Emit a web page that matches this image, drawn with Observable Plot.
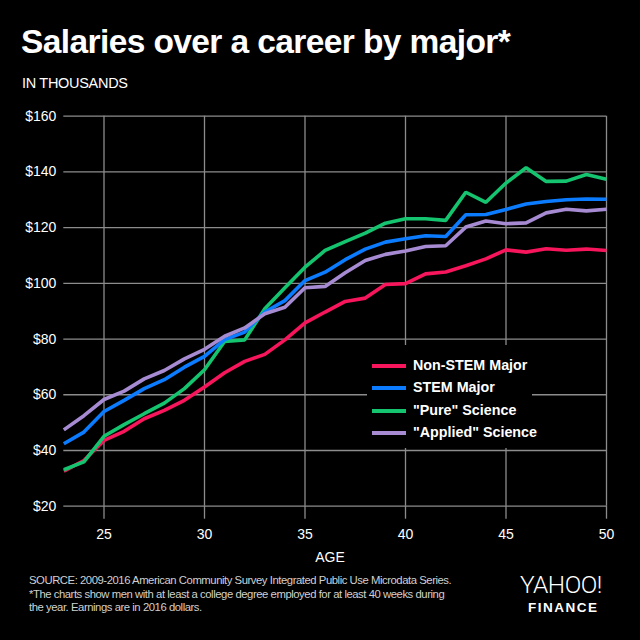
<!DOCTYPE html>
<html>
<head>
<meta charset="utf-8">
<script src="https://cdn.jsdelivr.net/npm/d3@7"></script>
<script src="https://cdn.jsdelivr.net/npm/@observablehq/plot@0.6"></script>
<style>
  html, body { margin: 0; padding: 0; background: #000; }
  #root { position: relative; width: 640px; height: 640px; background: #000; overflow: hidden;
          font-family: "Liberation Sans", Arial, Helvetica, sans-serif; color: #fff; }
  .abs { position: absolute; white-space: nowrap; }
  #title { left: 21px; top: 23px; font-size: 33.5px; font-weight: bold; letter-spacing: -0.6px; line-height: 1.15; }
  #sub { left: 22px; top: 75px; font-size: 14.5px; letter-spacing: -0.3px; }
  #chart { left: 0; top: 100px; }
  #legend { left: 367px; top: 345px; width: 165px; height: 103px; background: #000; }
  .row { position: absolute; left: 0; height: 16px; font-size: 14.3px; font-weight: bold; }
  .sw { position: absolute; left: 5px; top: 6px; width: 34px; height: 4px; }
  .lab { position: absolute; left: 46px; top: -1px; }
  #xlabel { left: 0; width: 660px; text-align: center; top: 549px; font-size: 14px; }
  #src { left: 29px; top: 574px; font-size: 11.3px; line-height: 13.7px; color: #d0d0d0; letter-spacing: -0.45px; }
  #logo1 { left: 520px; top: 574px; height: 22px; font-family: Roboto, "Liberation Sans", sans-serif; font-size: 24px; line-height: 22px; letter-spacing: -0.5px; transform: scaleX(1.02); transform-origin: left top; font-weight: 300; }
  #logo2 { left: 528px; top: 602px; height: 12px; font-size: 13.5px; line-height: 12px; font-weight: bold; letter-spacing: 1.5px; }
</style>
</head>
<body>
<div id="root">
  <div id="title" class="abs">Salaries over a career by major*</div>
  <div id="sub" class="abs">IN THOUSANDS</div>
  <div id="chart" class="abs"></div>
  <div id="legend" class="abs"></div>
  <div id="xlabel" class="abs">AGE</div>
  <div id="src" class="abs">SOURCE: 2009-2016 American Community Survey Integrated Public Use Microdata Series.<br>*The charts show men with at least a college degree employed for at least 40 weeks during<br>the year. Earnings are in 2016 dollars.</div>
  <div id="logo1" class="abs">YAHOO!</div>
  <div id="logo2" class="abs">FINANCE</div>
</div>
<script>
const ages = [23,24,25,26,27,28,29,30,31,32,33,34,35,36,37,38,39,40,41,42,43,44,45,46,47,48,49,50];
const nonStem = [32.6,36.4,43.6,46.9,51.4,54.4,58.0,62.8,67.9,72.0,74.5,79.7,85.8,89.7,93.5,94.7,99.6,99.9,103.4,104.1,106.3,108.8,112.0,111.2,112.4,111.9,112.3,111.8];
const stem = [42.4,46.6,54.0,58.0,62.2,65.4,69.9,73.8,79.8,82.5,89.7,93.8,101.0,104.0,108.5,112.3,114.8,116.0,117.1,116.8,124.6,124.7,126.5,128.5,129.4,130.0,130.3,130.2];
const pure = [33.1,35.9,45.1,49.3,53.2,57.0,62.2,69.0,79.1,79.7,90.9,98.4,105.8,111.8,115.0,118.0,121.6,123.2,123.2,122.6,132.7,129.1,136.0,141.5,136.6,136.7,139.1,137.4];
const applied = [47.4,52.5,58.3,61.3,65.7,68.7,72.9,76.3,81.0,84.0,89.1,91.4,98.4,98.9,103.8,108.2,110.4,111.6,113.2,113.5,120.2,122.4,121.4,121.7,125.3,126.6,126.0,126.6];
const seriesNames = ["Non-STEM Major", "STEM Major", "\"Pure\" Science", "\"Applied\" Science"];
const seriesColors = ["#f7155c", "#0b7cff", "#14c46f", "#a68bd3"];
const yTicks = [20,40,60,80,100,120,140,160];
const xTicks = [25,30,35,40,45,50];

const seriesValues = [nonStem, stem, pure, applied];
const data = [];
seriesValues.forEach((vals, i) => vals.forEach((v, j) => data.push({age: ages[j], value: v, series: seriesNames[i]})));
const drawOrder = [0, 2, 1, 3];

const gridColor = "#8c8c8c";
const chart = Plot.plot({
  width: 640,
  height: 450,
  marginTop: 15.7,
  marginBottom: 44.3,
  marginLeft: 63.3,
  marginRight: 34,
  style: {background: "#000", color: "#fff", fontFamily: "'Liberation Sans', Arial, sans-serif", fontSize: "14px"},
  x: {domain: [23, 50]},
  y: {domain: [20, 160]},
  color: {domain: seriesNames, range: seriesColors},
  marks: [
    Plot.ruleY(yTicks, {x1: 23, x2: 50, stroke: gridColor, strokeWidth: 1.3}),
    Plot.ruleX(xTicks, {y1: 20, y2: 160, stroke: gridColor, strokeWidth: 1.3}),
    Plot.axisX(xTicks, {tickSize: 13, tickPadding: 10, stroke: gridColor, strokeWidth: 1.3, label: null, fill: "#fff", fontSize: 14, tickFormat: d => String(d)}),
    Plot.axisY(yTicks, {tickSize: 0, tickPadding: 7.5, label: null, fill: "#fff", fontSize: 14, tickFormat: d => "$" + d}),
    ...drawOrder.map(i => Plot.line(data.filter(d => d.series === seriesNames[i]), {x: "age", y: "value", stroke: seriesColors[i], strokeWidth: 3.6, strokeLinejoin: "miter", strokeLinecap: "butt"}))
  ]
});
document.getElementById("chart").appendChild(chart);

const legend = document.getElementById("legend");
const rowTops = [13, 35, 58, 80];
seriesNames.forEach((n, i) => {
  const r = document.createElement("div");
  r.className = "row";
  r.style.top = rowTops[i] + "px";
  r.innerHTML = `<div class="sw" style="background:${seriesColors[i]}"></div><div class="lab"></div>`;
  r.querySelector(".lab").textContent = n;
  legend.appendChild(r);
});
</script>
</body>
</html>
